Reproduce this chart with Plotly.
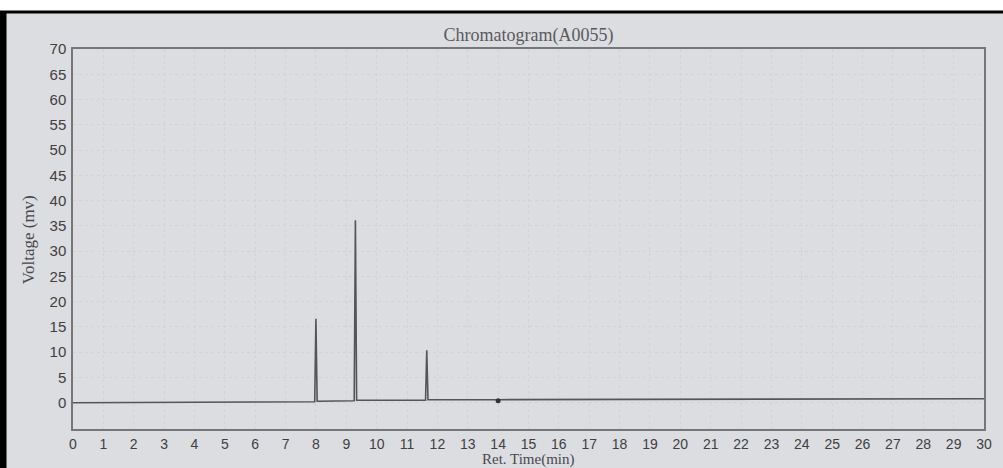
import plotly.graph_objects as go

# Chromatogram trace (Ret. Time in min, Voltage in mV)
time_min = [0, 7.96, 8.0, 8.04, 9.26, 9.3, 9.34, 11.61, 11.65, 11.69, 14.0, 30]
voltage_mv = [0, 0.2, 16.6, 0.3, 0.4, 36.1, 0.5, 0.5, 10.4, 0.6, 0.6, 0.8]

# small dot seen on the baseline
dot_time = [14.0]
dot_voltage = [0.4]

x_ticks = list(range(0, 31))
y_ticks = list(range(0, 75, 5))

title_text = "Chromatogram(A0055)"
x_title = "Ret. Time(min)"
y_title = "Voltage (mv)"

bg = "#dcdde1"
ink = "#404042"

W, H = 1003, 468
ML, MR, MT, MB = 73, 19, 49, 39
PLOT_H = H - MT - MB
PLOT_W = W - ML - MR

fig = go.Figure()
fig.add_trace(go.Scatter(
    x=time_min, y=voltage_mv, mode="lines",
    line=dict(color="#555558", width=1.6),
    hoverinfo="skip", showlegend=False,
))
fig.add_trace(go.Scatter(
    x=dot_time, y=dot_voltage, mode="markers",
    marker=dict(color="#333333", size=5),
    hoverinfo="skip", showlegend=False,
))

fig.update_layout(
    width=W, height=H,
    margin=dict(l=ML, r=MR, t=MT, b=MB),
    paper_bgcolor=bg, plot_bgcolor=bg,
    title=dict(text=title_text, x=0.5, xanchor="center", xref="paper",
               y=1 - 35 / H, yanchor="middle",
               font=dict(family="Liberation Serif", size=18, color="#5a5a5e")),
    font=dict(family="Liberation Sans", color=ink),
    shapes=[
        dict(type="rect", xref="paper", yref="paper", x0=-0.2, x1=1.2,
             y0=1 + 37 / PLOT_H, y1=1 + 60 / PLOT_H, fillcolor="white",
             line=dict(width=0), layer="below"),
        dict(type="line", xref="paper", yref="paper", x0=-0.2, x1=1.2,
             y0=1 + 37 / PLOT_H, y1=1 + 37 / PLOT_H, line=dict(color="black", width=3)),
        dict(type="line", xref="paper", yref="paper", x0=-70 / PLOT_W, x1=-70 / PLOT_W,
             y0=-0.2, y1=1 + 37 / PLOT_H, line=dict(color="black", width=7)),
    ],
    annotations=[
        dict(text=x_title, xref="paper", yref="paper", x=0.5, y=-(459 - (H - MB)) / PLOT_H,
             xanchor="center", yanchor="middle", showarrow=False,
             font=dict(family="Liberation Serif", size=15, color="#48484c")),
        dict(text=y_title, xref="paper", yref="paper", x=-(ML - 28) / PLOT_W, y=0.497,
             xanchor="center", yanchor="middle", showarrow=False, textangle=-90,
             font=dict(family="Liberation Serif", size=17, color="#48484c")),
    ],
)

fig.update_xaxes(
    range=[0, 30], tickvals=x_ticks, ticktext=[str(v) for v in x_ticks],
    showline=True, mirror=True, linecolor="#76767a", linewidth=1.5,
    showgrid=True, gridcolor="#d2d3d7", griddash="dot", gridwidth=1,
    zeroline=False, ticks="", automargin=False, ticklabelstandoff=1,
    tickfont=dict(family="Liberation Sans", size=14, color=ink),
)
fig.update_yaxes(
    range=[-5.2, 70], tickvals=y_ticks, ticktext=[str(v) for v in y_ticks],
    showline=True, mirror=True, linecolor="#76767a", linewidth=1.5,
    showgrid=True, gridcolor="#d2d3d7", griddash="dot", gridwidth=1,
    zeroline=False, ticks="", ticklabelstandoff=2, automargin=False,
    tickfont=dict(family="Liberation Sans", size=15, color=ink),
)

fig.write_html("out.html",
               config={"displayModeBar": False},
               post_script="document.body.style.margin='0';document.body.style.overflow='hidden';")
